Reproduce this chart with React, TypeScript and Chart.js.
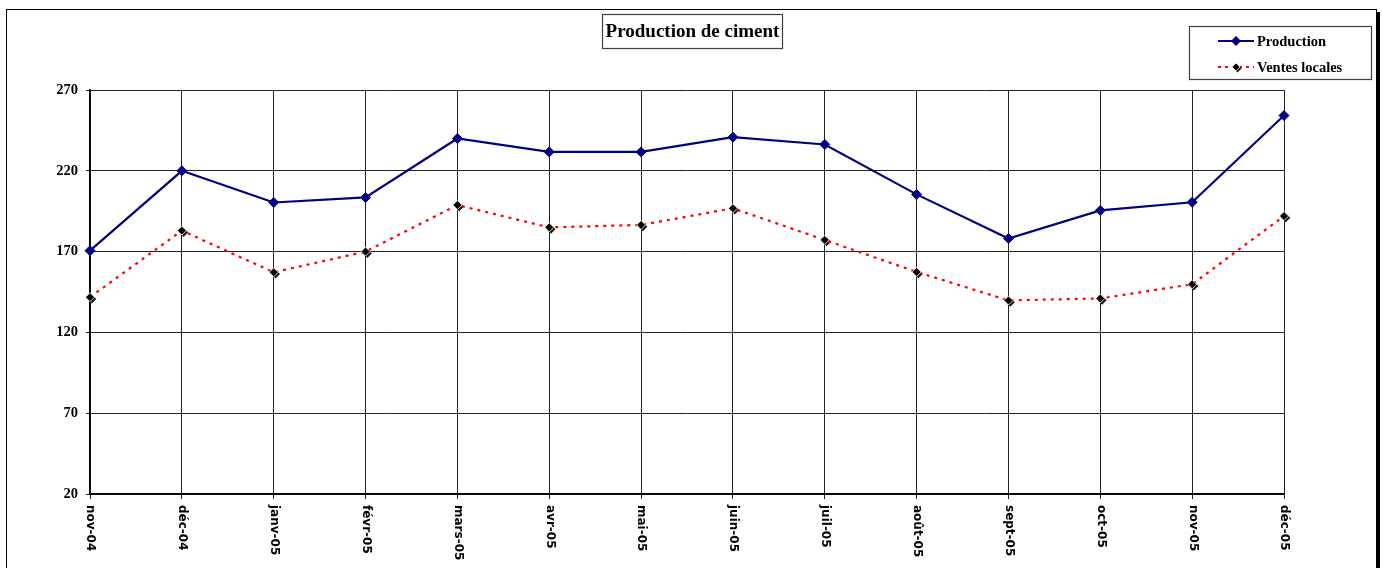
import React, { useEffect, useRef } from "react";
import { Chart, registerables } from "chart.js";

Chart.register(...registerables);

const categories = [
  "nov-04", "déc-04", "janv-05", "févr-05", "mars-05", "avr-05", "mai-05",
  "juin-05", "juil-05", "août-05", "sept-05", "oct-05", "nov-05", "déc-05",
];
const production = [170.6, 220, 200.4, 203.5, 240, 231.7, 231.7, 240.8, 236.3, 205.4, 178.1, 195.5, 200.5, 254.2];
const ventesLocales = [141.8, 183, 157.2, 170, 198.8, 185, 186.5, 196.8, 177.2, 157.4, 139.8, 141, 149.8, 192];
const yTicks = [20, 70, 120, 170, 220, 270];
const titleText = "Production de ciment";
const seriesNames = ["Production", "Ventes locales"];

const W = 1382;
const H = 568;
const SERIF = '"Liberation Serif", "Times New Roman", serif';
const SANS = '"DejaVu Sans", Verdana, sans-serif';

function diamond(ctx: CanvasRenderingContext2D, x: number, y: number, r: number) {
  ctx.beginPath();
  ctx.moveTo(x, y - r);
  ctx.lineTo(x + r, y);
  ctx.lineTo(x, y + r);
  ctx.lineTo(x - r, y);
  ctx.closePath();
}

const decorPlugin = {
  id: "decor",
  beforeDatasetDraw(chart: any, args: any) {
    if (args.index !== 1) return;
    const ctx = chart.ctx as CanvasRenderingContext2D;
    const meta = chart.getDatasetMeta(1);
    ctx.save();
    meta.data.forEach((pt: any) => {
      diamond(ctx, pt.x + 1.8, pt.y + 1.8, 4.5);
      ctx.fillStyle = "#1a1a1a";
      ctx.fill();
    });
    ctx.restore();
  },
  afterDraw(chart: any) {
    const ctx = chart.ctx as CanvasRenderingContext2D;
    ctx.save();
    // outer frame
    ctx.strokeStyle = "#000";
    ctx.lineWidth = 1;
    ctx.strokeRect(6.5, 9.5, 1370, 700);
    ctx.fillStyle = "#000";
    ctx.fillRect(1377, 12, 3, H);

    // title box
    ctx.fillStyle = "#fff";
    ctx.fillRect(603, 15, 179, 33);
    ctx.strokeStyle = "#404040";
    ctx.lineWidth = 1.2;
    ctx.strokeRect(602.5, 14.5, 180, 34);
    ctx.fillStyle = "#000";
    ctx.font = `bold 19px ${SERIF}`;
    ctx.textAlign = "center";
    ctx.textBaseline = "middle";
    ctx.fillText(titleText, 692.5, 32);

    // legend box
    ctx.strokeStyle = "#404040";
    ctx.lineWidth = 1.2;
    ctx.strokeRect(1189.5, 26.5, 182, 53);
    // Production
    ctx.strokeStyle = "#000080";
    ctx.lineWidth = 2.2;
    ctx.beginPath();
    ctx.moveTo(1218, 41);
    ctx.lineTo(1254, 41);
    ctx.stroke();
    diamond(ctx, 1236, 41, 5);
    ctx.fillStyle = "#000080";
    ctx.fill();
    // Ventes locales
    ctx.strokeStyle = "#ff0000";
    ctx.lineWidth = 2;
    ctx.setLineDash([3, 4]);
    ctx.beginPath();
    ctx.moveTo(1218, 67);
    ctx.lineTo(1254, 67);
    ctx.stroke();
    ctx.setLineDash([]);
    diamond(ctx, 1237.5, 68.5, 4);
    ctx.fillStyle = "#1a1a1a";
    ctx.fill();
    diamond(ctx, 1236, 67, 4);
    ctx.fillStyle = "#000";
    ctx.fill();
    ctx.strokeStyle = "#fff";
    ctx.lineWidth = 0.8;
    ctx.stroke();

    ctx.fillStyle = "#000";
    ctx.font = `bold 14.5px ${SERIF}`;
    ctx.textAlign = "left";
    ctx.textBaseline = "middle";
    ctx.fillText(seriesNames[0], 1257, 42);
    ctx.fillText(seriesNames[1], 1257, 68);

    // x tick labels, rotated clockwise
    const xs = chart.scales.x;
    ctx.font = `bold 12px ${SANS}`;
    ctx.fillStyle = "#000";
    ctx.textAlign = "left";
    ctx.textBaseline = "middle";
    categories.forEach((lab, i) => {
      const x = xs.getPixelForTick(i);
      ctx.save();
      ctx.translate(x + 0.5, chart.chartArea.bottom + 11);
      ctx.rotate(Math.PI / 2);
      ctx.fillText(lab, 0, 0);
      ctx.restore();
    });
    ctx.restore();
  },
};

export default function App() {
  const ref = useRef<HTMLCanvasElement | null>(null);
  useEffect(() => {
    if (!ref.current) return;
    const chart = new Chart(ref.current, {
      type: "line",
      data: {
        labels: categories,
        datasets: [
          {
            label: seriesNames[0],
            data: production,
            borderColor: "#000080",
            backgroundColor: "#000080",
            borderWidth: 2.2,
            pointStyle: "rectRot",
            pointRadius: 5,
            pointBackgroundColor: "#000080",
            pointBorderColor: "#000080",
            pointBorderWidth: 1,
            tension: 0,
          },
          {
            label: seriesNames[1],
            data: ventesLocales,
            borderColor: "#ff0000",
            backgroundColor: "#000",
            borderWidth: 2.2,
            borderDash: [3, 5],
            pointStyle: "rectRot",
            pointRadius: 4.5,
            pointBackgroundColor: "#000",
            pointBorderColor: "#fff",
            pointBorderWidth: 0.8,
            tension: 0,
          },
        ],
      },
      options: {
        responsive: false,
        animation: false,
        events: [],
        layout: { padding: { left: 0, top: 90, right: 98, bottom: 0 } },
        plugins: {
          legend: { display: false },
          title: { display: false },
          tooltip: { enabled: false },
        },
        scales: {
          x: {
            type: "category",
            offset: false,
            grid: { color: "#222", lineWidth: 1, tickLength: 5, drawTicks: true },
            border: { color: "#000", width: 1.5 },
            ticks: { display: false },
            afterFit: (s: any) => { s.height = 74; },
          },
          y: {
            min: yTicks[0],
            max: yTicks[yTicks.length - 1],
            afterBuildTicks: (s: any) => { s.ticks = yTicks.map((v) => ({ value: v })); },
            grid: { color: "#222", lineWidth: 1, tickLength: 4, drawTicks: true },
            border: { color: "#000", width: 1.5 },
            ticks: {
              color: "#000",
              padding: 8,
              font: { family: SERIF, size: 14.5, weight: "bold" },
            },
            afterFit: (s: any) => { s.width = 90; },
          },
        },
      },
      plugins: [decorPlugin],
    });
    return () => chart.destroy();
  }, []);
  return (
    <div style={{ position: "fixed", left: 0, top: 0, width: W, height: H, background: "#fff" }}>
      <canvas ref={ref} width={W} height={H} style={{ display: "block", width: W, height: H }} />
    </div>
  );
}
